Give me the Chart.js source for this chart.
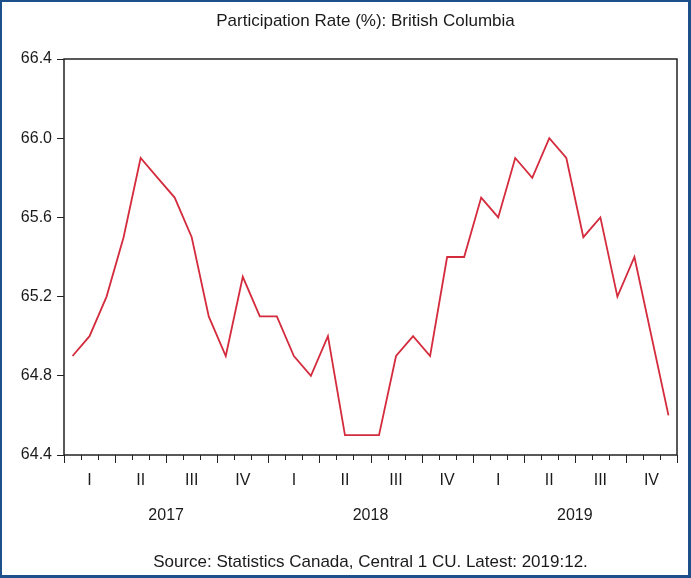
<!DOCTYPE html>
<html>
<head>
<meta charset="utf-8">
<script src="https://cdn.jsdelivr.net/npm/chart.js@4"></script>
<style>
  body { margin: 0; background: #fff; }
  #wrap { width: 691px; height: 578px; }
</style>
</head>
<body>
<div id="wrap"><canvas id="prChart" width="691" height="578"></canvas></div>
<script>
// monthly participation rate, 2017:01 - 2019:12
const years = ['2017', '2018', '2019'];
const quarters = ['I', 'II', 'III', 'IV'];
const rate2017 = [64.9, 65.0, 65.2, 65.5, 65.9, 65.8, 65.7, 65.5, 65.1, 64.9, 65.3, 65.1];
const rate2018 = [65.1, 64.9, 64.8, 65.0, 64.5, 64.5, 64.5, 64.9, 65.0, 64.9, 65.4, 65.4];
const rate2019 = [65.7, 65.6, 65.9, 65.8, 66.0, 65.9, 65.5, 65.6, 65.2, 65.4, 65.0, 64.6];
const yTicks = [64.4, 64.8, 65.2, 65.6, 66.0, 66.4];

const rates = rate2017.concat(rate2018, rate2019);
const months = [];
years.forEach(y => {
  for (let m = 1; m <= 12; m++) months.push(y + ':' + String(m).padStart(2, '0'));
});

const FONT = 'Liberation Sans, Arial, sans-serif';
const TXT = '#1a1a1a';

// frame, plot box, month ticks, year labels, title and source
const decor = {
  id: 'decor',
  beforeDraw(chart) {
    const ctx = chart.ctx;
    ctx.save();
    ctx.fillStyle = '#fff';
    ctx.fillRect(0, 0, chart.width, chart.height);
    ctx.restore();
  },
  afterDraw(chart) {
    const ctx = chart.ctx;
    const a = chart.chartArea;
    const x = chart.scales.x;
    ctx.save();
    ctx.strokeStyle = '#222';
    ctx.lineWidth = 1.5;
    ctx.strokeRect(a.left, a.top, a.right - a.left, a.bottom - a.top);

    // month ticks below the axis, longer at quarter boundaries
    ctx.lineWidth = 1;
    for (let i = 0; i <= months.length; i++) {
      let px;
      if (i === 0) px = a.left;
      else if (i === months.length) px = a.right;
      else px = (x.getPixelForValue(i - 1) + x.getPixelForValue(i)) / 2;
      px = Math.round(px) + 0.5;
      const len = i % 3 === 0 ? 8 : 5;
      ctx.beginPath();
      ctx.moveTo(px, a.bottom);
      ctx.lineTo(px, a.bottom + len);
      ctx.stroke();
    }

    ctx.fillStyle = TXT;
    ctx.font = '16px ' + FONT;
    ctx.textAlign = 'center';
    ctx.textBaseline = 'middle';
    years.forEach((y, k) => {
      const cx = (x.getPixelForValue(k * 12 + 5) + x.getPixelForValue(k * 12 + 6)) / 2;
      ctx.fillText(y, cx, 516);
    });

    const mid = (a.left + a.right) / 2;
    ctx.font = '17px ' + FONT;
    ctx.fillText('Participation Rate (%): British Columbia', mid - 5, 21);
    ctx.fillText('Source: Statistics Canada, Central 1 CU. Latest: 2019:12.', mid, 562);

    // outer blue frame
    ctx.fillStyle = '#1d4f8b';
    ctx.fillRect(0, 0, chart.width, 2);
    ctx.fillRect(0, 0, 2, chart.height);
    ctx.fillRect(chart.width - 3, 0, 3, chart.height);
    ctx.fillRect(0, chart.height - 3, chart.width, 3);
    ctx.restore();
  }
};

const ctx = document.getElementById('prChart').getContext('2d');
new Chart(ctx, {
  type: 'line',
  data: {
    labels: months,
    datasets: [{
      data: rates,
      borderColor: '#d42b3d',
      borderWidth: 1.8,
      pointRadius: 0,
      tension: 0,
      fill: false
    }]
  },
  options: {
    responsive: false,
    animation: false,
    devicePixelRatio: 1,
    layout: { padding: { top: 59, right: 14, bottom: 0, left: 0 } },
    plugins: {
      legend: { display: false },
      tooltip: { enabled: false },
      title: { display: false }
    },
    scales: {
      x: {
        type: 'category',
        offset: true,
        grid: { display: false, drawTicks: false },
        border: { display: false },
        ticks: {
          autoSkip: false,
          maxRotation: 0,
          padding: 16,
          color: TXT,
          font: { family: FONT, size: 16 },
          callback: (v, i) => (i % 3 === 1 ? quarters[Math.floor(i / 3) % 4] : '')
        },
        afterFit: s => { s.height = 123; }
      },
      y: {
        min: 64.4,
        max: 66.4,
        afterBuildTicks: s => { s.ticks = yTicks.map(v => ({ value: v })); },
        grid: { drawOnChartArea: false, drawTicks: true, tickLength: 7, color: '#222' },
        border: { display: false },
        ticks: {
          padding: 5,
          color: TXT,
          font: { family: FONT, size: 16 },
          callback: v => v.toFixed(1)
        },
        afterFit: s => { s.width = 64; }
      }
    }
  },
  plugins: [decor]
});
</script>
</body>
</html>
